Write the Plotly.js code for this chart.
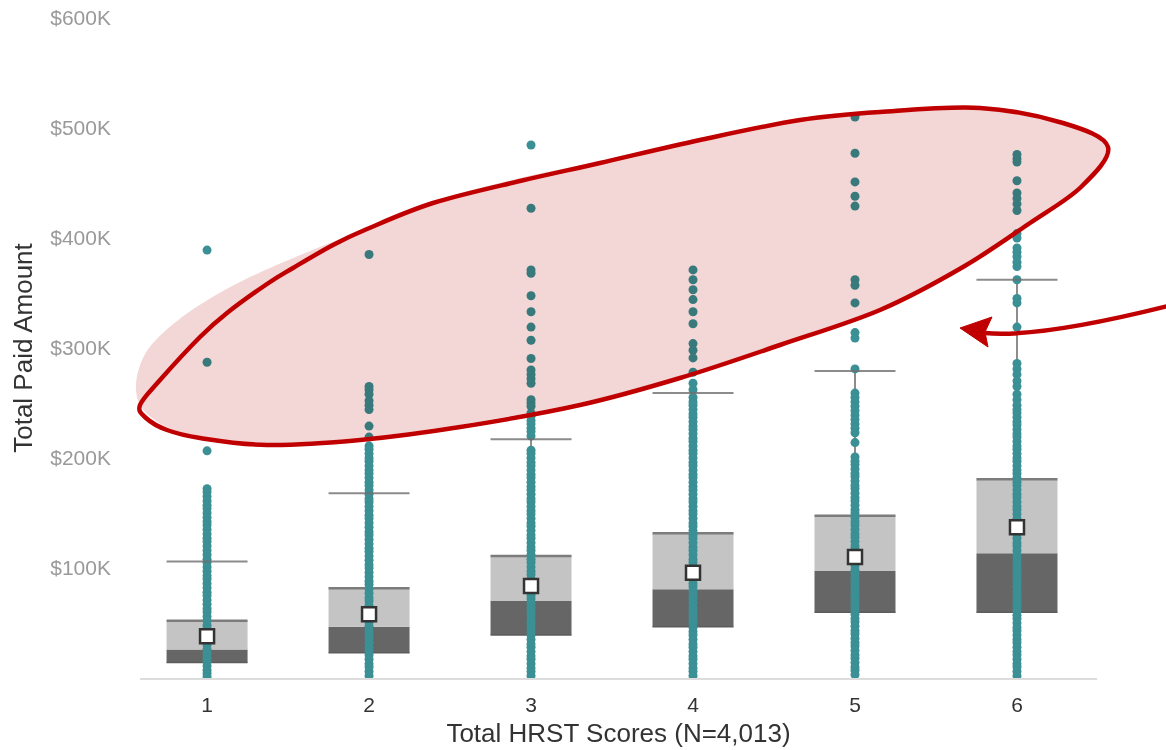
<!DOCTYPE html>
<html>
<head>
<meta charset="utf-8">
<script src="https://cdn.plot.ly/plotly-3.0.1.min.js"></script>
<style>
  html, body { margin: 0; padding: 0; background: #ffffff; }
  #chart { width: 1166px; height: 750px; }
</style>
</head>
<body>
<div id="chart"></div>
<script>
// ---------------- DATA (values in $K) ----------------
const categories = [1, 2, 3, 4, 5, 6];
const xTickLabels = ['1', '2', '3', '4', '5', '6'];
const yTickVals = [100, 200, 300, 400, 500, 600];
const yTickLabels = ['$100K', '$200K', '$300K', '$400K', '$500K', '$600K'];

const q1 = [14, 23, 39, 46.7, 59.7, 59.7];
const median = [26, 46.5, 70, 80.6, 97.3, 113.3];
const q3 = [52, 81.5, 111, 131.5, 147.6, 180.6];
const mean = [38, 58, 83.6, 95.7, 110, 137];
const upperFence = [106, 168, 217, 259, 279, 362];

const pts1 = [389, 287, 206.5, 172, 169, 165, 161, 157, 154, 150, 146, 142, 139, 135, 131, 127, 124, 120, 116, 112, 108, 105, 101, 97, 93, 90, 86, 82, 78, 75, 71, 67, 63, 60, 56, 52, 48, 45, 41, 37, 33, 30, 26, 22, 18, 15, 11, 7, 4, 1];
const pts2 = [385, 265, 262, 258, 252, 248, 244, 229, 219, 211, 208, 204, 200, 197, 193, 189, 186, 182, 178, 175, 171, 167, 163, 160, 156, 152, 148, 145, 141, 137, 133, 130, 126, 122, 118, 115, 111, 107, 103, 100, 96, 92, 88, 85, 81, 77, 73, 70, 66, 62, 58, 55, 51, 47, 43, 40, 36, 32, 28, 25, 21, 17, 13, 10, 6, 2];
const pts3 = [484.5, 427, 371, 368, 347.5, 333, 319, 307, 290.5, 280, 276, 272, 268, 253, 250, 247, 241, 238, 234, 231, 227, 224, 220, 207, 204, 200, 196, 193, 189, 185, 182, 178, 174, 171, 167, 163, 160, 156, 152, 149, 145, 141, 138, 134, 130, 127, 123, 119, 116, 112, 108, 105, 101, 97, 94, 90, 86, 83, 79, 75, 72, 68, 64, 61, 57, 53, 50, 46, 42, 39, 35, 31, 28, 24, 20, 17, 13, 9, 6, 2];
const pts4 = [371, 362, 353, 344, 333, 322, 304, 298, 291, 278, 268, 262, 255, 251, 248, 244, 240, 237, 233, 229, 226, 222, 218, 215, 211, 207, 204, 200, 196, 193, 189, 185, 182, 178, 174, 171, 167, 163, 160, 156, 152, 149, 145, 141, 138, 134, 130, 127, 123, 119, 116, 112, 108, 105, 101, 97, 94, 90, 86, 83, 79, 75, 72, 68, 64, 61, 57, 53, 50, 46, 42, 39, 35, 31, 28, 24, 20, 17, 13, 9, 6, 2];
const pts5 = [510, 477, 451, 438, 429, 362, 357, 341, 314, 309, 281, 259, 255, 251, 247, 243, 239, 235, 231, 227, 223, 214, 201, 197, 194, 190, 186, 183, 179, 175, 172, 168, 164, 161, 157, 153, 150, 146, 142, 139, 135, 131, 128, 124, 120, 117, 113, 109, 106, 102, 98, 95, 91, 87, 84, 80, 76, 73, 69, 65, 62, 58, 54, 51, 47, 43, 40, 36, 32, 29, 25, 21, 18, 14, 10, 7, 3];
const pts6 = [476, 472, 469, 452, 441, 436, 431, 425, 404, 400, 391, 387, 383, 378, 374, 362, 345, 341, 319, 286, 281, 276, 270, 265, 258, 253, 248, 244, 241, 237, 233, 230, 226, 222, 219, 215, 211, 208, 204, 200, 197, 193, 189, 186, 182, 178, 175, 171, 167, 164, 160, 156, 153, 149, 145, 142, 138, 134, 131, 127, 123, 120, 116, 112, 109, 105, 101, 98, 94, 90, 87, 83, 79, 76, 72, 68, 65, 61, 57, 54, 50, 46, 43, 39, 35, 32, 28, 24, 21, 17, 13, 10, 6, 2];
const pointSets = [pts1, pts2, pts3, pts4, pts5, pts6];

// ---------------- STYLE ----------------
const TEAL = '#3a9094';
const DARK_BOX = '#666666';
const LIGHT_BOX = '#c4c4c4';
const RED = '#c00000';
const PINK = '#f3d6d6';
const HALF = 0.25; // half box width in category units

// ---------------- TRACES ----------------
const seg = (vals) => ({
  x: categories.flatMap(c => [c - HALF, c + HALF, null]),
  y: vals.flatMap(v => [v, v, null])
});

const traces = [];
traces.push({
  type: 'bar', x: categories, base: q1, y: median.map((m, i) => m - q1[i]),
  width: 0.5, marker: { color: DARK_BOX, line: { width: 0 } }, hoverinfo: 'skip'
});
traces.push({
  type: 'bar', x: categories, base: median, y: q3.map((v, i) => v - median[i]),
  width: 0.5, marker: { color: LIGHT_BOX, line: { width: 0 } }, hoverinfo: 'skip'
});
const topEdge = seg(q3);
traces.push({ type: 'scatter', mode: 'lines', x: topEdge.x, y: topEdge.y,
  line: { color: '#7c7c7c', width: 2.5 }, hoverinfo: 'skip' });
const botEdge = seg(q1);
traces.push({ type: 'scatter', mode: 'lines', x: botEdge.x, y: botEdge.y,
  line: { color: '#5c5c5c', width: 1.5 }, hoverinfo: 'skip' });
traces.push({ type: 'scatter', mode: 'lines',
  x: categories.flatMap(c => [c, c, null]),
  y: categories.flatMap((c, i) => [q3[i], upperFence[i], null]),
  line: { color: '#8c8c8c', width: 2 }, hoverinfo: 'skip' });
const px = [], py = [];
pointSets.forEach((arr, i) => arr.forEach(v => { px.push(categories[i]); py.push(v); }));
traces.push({ type: 'scatter', mode: 'markers', x: px, y: py,
  marker: { color: TEAL, size: 9, line: { width: 0 } }, hoverinfo: 'skip' });
const caps = seg(upperFence);
traces.push({ type: 'scatter', mode: 'lines', x: caps.x, y: caps.y,
  line: { color: 'rgba(110,110,110,0.8)', width: 2 }, hoverinfo: 'skip' });
traces.push({ type: 'scatter', mode: 'markers', x: categories, y: mean,
  marker: { symbol: 'square', size: 14, color: '#ffffff', line: { color: '#333333', width: 2.5 } },
  hoverinfo: 'skip' });

// ---------------- ANNOTATION DECORATION (pixel positions -> paper) ----------------
const PL = 140, PT = 18, PW = 957, PH = 660;
const toPaper = p => [((p[0] - PL) / PW).toFixed(5), ((PT + PH - p[1]) / PH).toFixed(5)];
function smoothClosed(pts) {
  const n = pts.length;
  let d = 'M' + toPaper(pts[0]).join(',');
  for (let i = 0; i < n; i++) {
    const p0 = pts[(i - 1 + n) % n], p1 = pts[i], p2 = pts[(i + 1) % n], p3 = pts[(i + 2) % n];
    const c1 = [p1[0] + (p2[0] - p0[0]) / 6, p1[1] + (p2[1] - p0[1]) / 6];
    const c2 = [p2[0] - (p3[0] - p1[0]) / 6, p2[1] - (p3[1] - p1[1]) / 6];
    d += ' C' + toPaper(c1).join(',') + ' ' + toPaper(c2).join(',') + ' ' + toPaper(p2).join(',');
  }
  return d + ' Z';
}
const pinkOutline = [[136,385],[144,356],[164,332],[198,306],[244,280],[298,256],[367,228],[433,201],[520,178],[600,161],[700,138],[800,118],[880,110],[980,106],[1063,121],[1106,147],[1078,187],[1028,222],[961,266],[878,309],[778,344],[678,377],[578,403],[458,425],[358,438],[267,443],[200,436],[165,426],[142,408]];
const redOutline = [[140,405],[160,380],[200,337],[227,313],[267,284],[293,268],[333,245],[367,229],[433,203],[520,181],[600,163],[700,140],[800,120],[880,112],[980,108],[1063,123],[1108,147],[1081,187],[1030,223],[963,267],[880,310],[780,345],[680,378],[580,405],[460,427],[360,440],[267,445],[200,438],[167,430],[146,418]];
const arrowLine = 'M' + toPaper([985,333]).join(',') + ' Q' + toPaper([1040,338]).join(',') + ' ' + toPaper([1168,306]).join(',');
const arrowHead = 'M' + toPaper([960,328]).join(',') + ' L' + toPaper([992,317]).join(',') + ' L' + toPaper([985,332]).join(',') + ' L' + toPaper([988,347]).join(',') + ' Z';

const shapes = [
  { type: 'path', xref: 'paper', yref: 'paper', path: smoothClosed(pinkOutline), fillcolor: PINK, line: { width: 0 }, layer: 'above' },
  { type: 'path', xref: 'paper', yref: 'paper', path: smoothClosed(redOutline), fillcolor: 'rgba(0,0,0,0)', line: { color: RED, width: 4.5 }, layer: 'above' },
  { type: 'path', xref: 'paper', yref: 'paper', path: arrowLine, fillcolor: 'rgba(0,0,0,0)', line: { color: RED, width: 4.5 }, layer: 'above' },
  { type: 'path', xref: 'paper', yref: 'paper', path: arrowHead, fillcolor: RED, line: { color: RED, width: 1 }, layer: 'above' }
];

const layout = {
  width: 1166, height: 750,
  margin: { l: PL, r: 1166 - PL - PW, t: PT, b: 750 - PT - PH, pad: 0 },
  paper_bgcolor: '#ffffff', plot_bgcolor: '#ffffff',
  showlegend: false, barmode: 'overlay', hovermode: false,
  font: { family: 'Liberation Sans, Arial, sans-serif', color: '#333333' },
  xaxis: {
    range: [0.586, 6.494], tickmode: 'array', tickvals: categories, ticktext: xTickLabels,
    showgrid: false, zeroline: false, showline: true, linecolor: '#dcdcdc', linewidth: 2,
    ticks: '', ticklabelstandoff: 7, tickfont: { size: 21, color: '#333333' },
    title: { text: 'Total HRST Scores (N=4,013)', font: { size: 26, color: '#333333' }, standoff: 9 },
    fixedrange: true
  },
  yaxis: {
    range: [0, 600], tickmode: 'array', tickvals: yTickVals, ticktext: yTickLabels,
    showgrid: false, zeroline: false, showline: false, ticks: '', ticklabelstandoff: 28,
    tickfont: { size: 21, color: '#9a9a9a' },
    title: { text: 'Total Paid Amount', font: { size: 26, color: '#333333' }, standoff: 10 },
    fixedrange: true
  },
  shapes: shapes
};

Plotly.newPlot('chart', traces, layout, { displayModeBar: false, staticPlot: true }).then(() => {
  const p = document.querySelector('.layer-above .shapelayer path');
  if (p) p.style.mixBlendMode = 'multiply';
});
</script>
</body>
</html>
